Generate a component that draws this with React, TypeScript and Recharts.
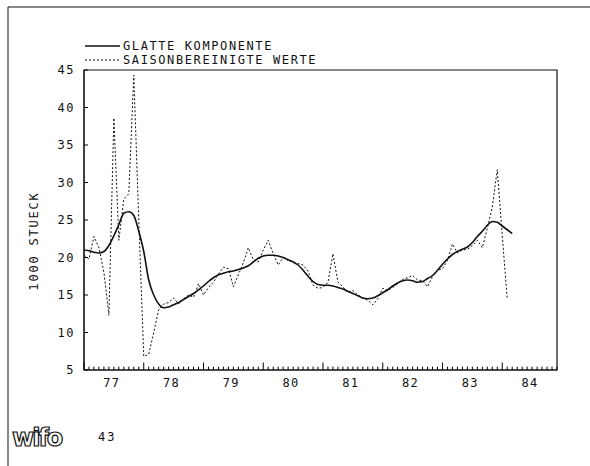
import React from 'react';
import { LineChart, Line, XAxis, YAxis, ReferenceArea, ReferenceLine } from 'recharts';

// monthly values, Jan 1977 = index 0
const glatte = [
  21.0, 20.9, 20.7, 20.6, 20.8, 21.6, 22.9, 24.4, 25.9, 26.1,
  25.6, 23.5, 20.8, 17.0, 15.0, 13.8, 13.3, 13.4, 13.7, 14.0,
  14.4, 14.8, 15.2, 15.7, 16.2, 16.8, 17.3, 17.7, 17.9, 18.1,
  18.2, 18.4, 18.6, 18.9, 19.4, 19.9, 20.2, 20.3, 20.3, 20.2,
  20.0, 19.7, 19.4, 19.0, 18.3, 17.5, 16.8, 16.4, 16.3, 16.3,
  16.2, 16.0, 15.8, 15.5, 15.2, 14.9, 14.6, 14.5, 14.6, 14.9,
  15.3, 15.7, 16.2, 16.6, 16.9, 17.0, 16.9, 16.7, 16.8, 17.2,
  17.6, 18.3, 19.1, 19.8, 20.4, 20.8, 21.1, 21.4, 22.0, 22.8,
  23.5, 24.3, 24.8, 24.7, 24.2, 23.7, 23.2,
];
const saison = [
  20.3, 19.8, 22.8, 21.3, 18.0, 12.3, 38.6, 22.3, 27.8, 28.5,
  44.3, 25.0, 6.8, 7.1, 10.0, 13.0, 13.8, 14.0, 14.6, 13.8,
  14.5, 15.0, 14.7, 16.5, 15.0, 16.0, 16.7, 17.8, 18.7, 18.5,
  16.1, 17.7, 19.3, 21.3, 19.7, 19.4, 21.0, 22.3, 20.5, 19.0,
  20.0, 19.6, 19.4, 19.2, 19.0, 18.2, 16.3, 15.9, 16.0, 16.7,
  20.5, 16.7, 16.1, 15.3, 15.6, 15.0, 14.6, 14.3, 13.7, 14.5,
  15.9, 15.6, 16.0, 16.5, 17.1, 17.3, 17.6, 17.0, 16.9, 16.1,
  17.5, 18.3, 18.5, 19.6, 21.8, 20.6, 21.0, 21.1, 21.6, 22.3,
  21.3, 23.9, 26.7, 31.7, 23.0, 14.5,
];
const yearLabels = ['77', '78', '79', '80', '81', '82', '83', '84'];
const yTicks = [5, 10, 15, 20, 25, 30, 35, 40, 45];
const monthTicks = Array.from({ length: 96 }, (_, i) => i);

const data = glatte.map((g, i) => ({
  m: i,
  glatte: g,
  saison: i < saison.length ? saison[i] : null,
}));

const FONT = '"DejaVu Sans Mono", monospace';
const INK = '#111';

const MonthTick = ({ x, y, payload }: any) => {
  const m = payload.value;
  if (m % 12 !== 6) return <g />;
  return (
    <text x={x - 2} y={y + 17} textAnchor="middle" fontFamily={FONT} fontSize={12}
      letterSpacing={1.5} fill={INK}>{yearLabels[Math.floor(m / 12)]}</text>
  );
};

const ValueTick = ({ x, y, payload }: any) => (
  <text x={x - 9} y={y} dy={4} textAnchor="end" fontFamily={FONT} fontSize={12}
    letterSpacing={1.5} fill={INK}>{payload.value}</text>
);

const YTitle = ({ viewBox }: any) => {
  const cx = viewBox.x + 34;
  const cy = viewBox.y + viewBox.height / 2 + 21;
  return (
    <text x={cx} y={cy} transform={`rotate(-90 ${cx} ${cy})`} textAnchor="middle" dy={4}
      fontFamily={FONT} fontSize={12} letterSpacing={1.8} fill={INK}>1000 STUECK</text>
  );
};

export default function App() {
  return (
    <div style={{ position: 'fixed', left: 0, top: 0, width: 590, height: 466, background: '#fff' }}>
      <LineChart width={590} height={466} data={data}
        margin={{ top: 70, right: 33, bottom: 66, left: 0 }}>
        <XAxis dataKey="m" type="number" domain={[0, 95]} ticks={monthTicks} interval={0}
          height={30} tickSize={0} tickMargin={0} tickLine={false} tick={<MonthTick />}
          axisLine={{ stroke: INK }} />
        <YAxis type="number" domain={[5, 45]} ticks={yTicks} interval={0} width={84}
          tickSize={0} tickMargin={0} tickLine={false} tick={<ValueTick />}
          axisLine={{ stroke: INK }} label={{ value: '1000 STUECK', content: <YTitle /> }} />
        <ReferenceArea x1={0} x2={95} y1={5} y2={45} fill="none" stroke={INK} strokeWidth={1.2} />
        {/* inward tick marks: months along the bottom, values along the left */}
        {monthTicks.map((m) => (
          <ReferenceLine key={`mt${m}`} segment={[{ x: m, y: 5 }, { x: m, y: m % 12 === 0 ? 6 : 5.45 }]}
            stroke="#000" strokeWidth={1} />
        ))}
        {yTicks.map((v) => (
          <ReferenceLine key={`yt${v}`} segment={[{ x: 0, y: v }, { x: 0.8, y: v }]}
            stroke="#000" strokeWidth={1} />
        ))}
        <Line type="monotone" dataKey="glatte" stroke={INK} strokeWidth={1.6} dot={false}
          isAnimationActive={false} />
        <Line type="linear" dataKey="saison" stroke={INK} strokeWidth={1} strokeDasharray="2 2"
          dot={false} connectNulls={false} isAnimationActive={false} />
      </LineChart>
      <svg width={590} height={466} style={{ position: 'absolute', left: 0, top: 0, pointerEvents: 'none' }}>
        <line x1={8} x2={590} y1={7} y2={7} stroke={INK} strokeWidth={1} />
        <line x1={8} x2={8} y1={7} y2={466} stroke={INK} strokeWidth={1} />
        <line x1={85} x2={120} y1={46} y2={46} stroke={INK} strokeWidth={1.6} />
        <text x={123} y={50} fontFamily={FONT} fontSize={12} letterSpacing={1.6} fill={INK}>GLATTE KOMPONENTE</text>
        <line x1={85} x2={120} y1={60} y2={60} stroke={INK} strokeWidth={1} strokeDasharray="2 2" />
        <text x={123} y={64} fontFamily={FONT} fontSize={12} letterSpacing={1.6} fill={INK}>SAISONBEREINIGTE WERTE</text>
        <text x={12} y={446} fontFamily='"DejaVu Sans", sans-serif' fontWeight="bold" fontSize={24}
          fill="#fff" stroke={INK} strokeWidth={1.2} letterSpacing={-2}>wifo</text>
        <text x={98} y={441} fontFamily={FONT} fontSize={12} letterSpacing={2} fill={INK}>43</text>
      </svg>
    </div>
  );
}
